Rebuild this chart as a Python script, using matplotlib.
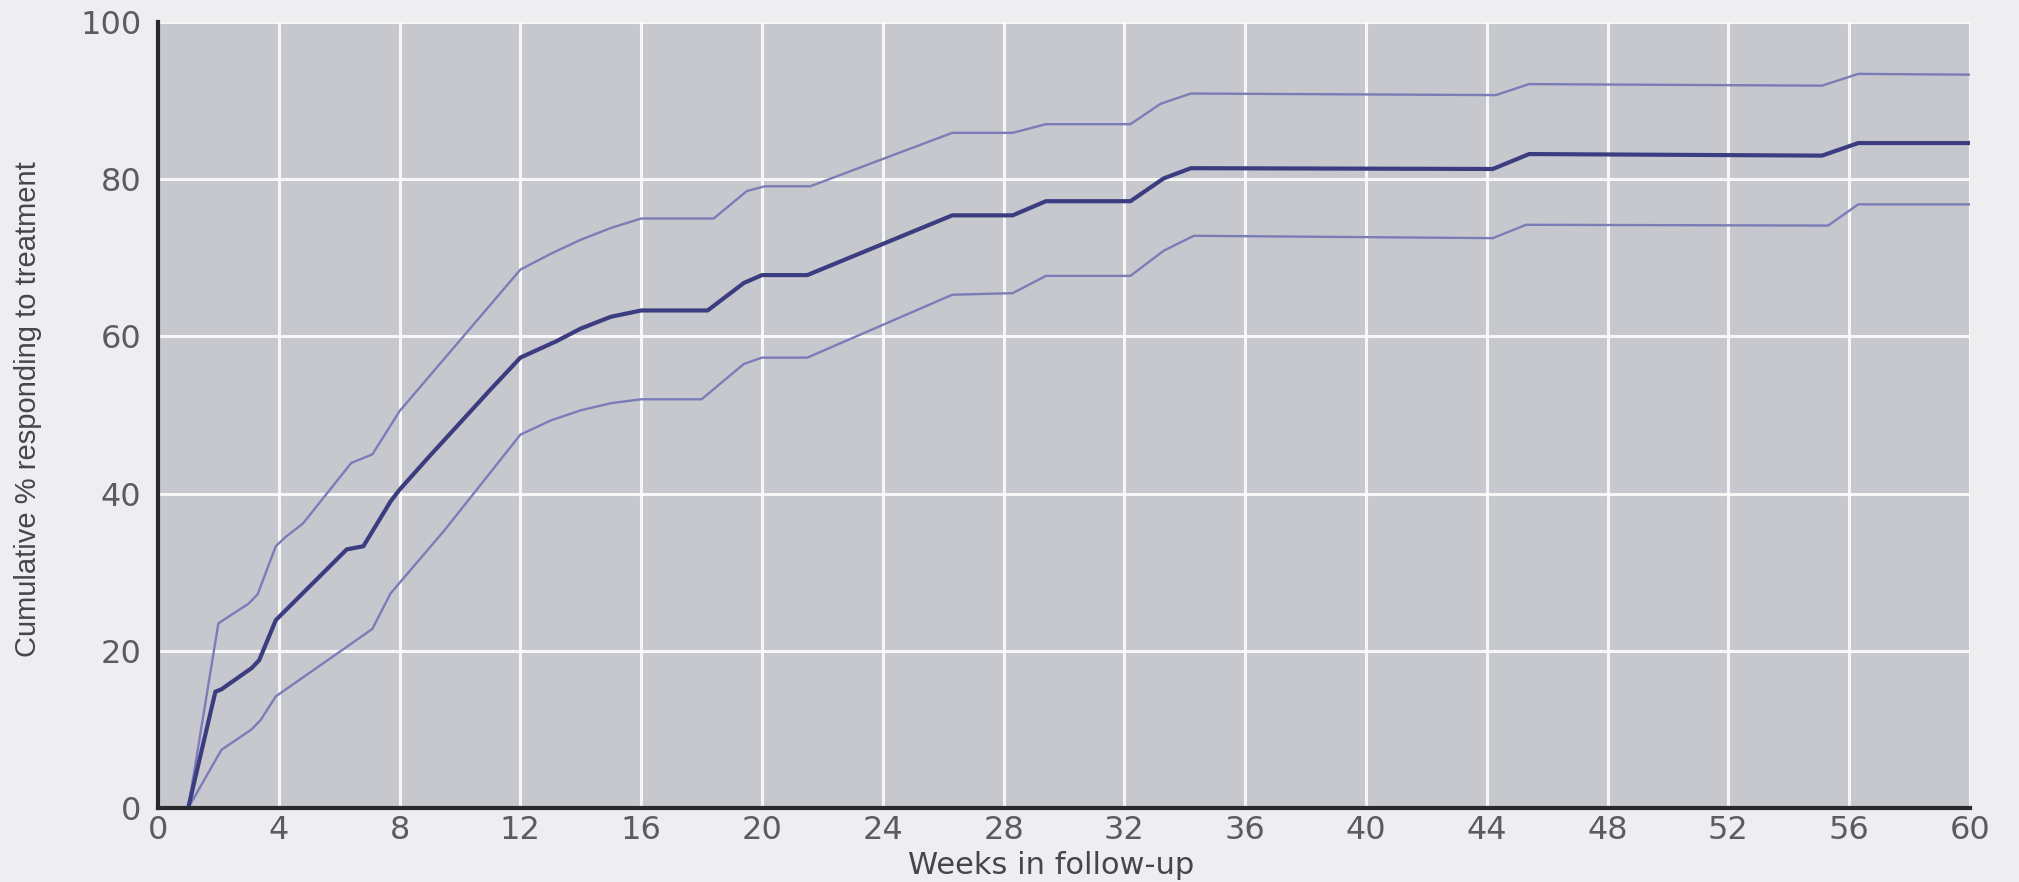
import matplotlib
matplotlib.use("Agg")
import matplotlib.pyplot as plt

# ---- data ----
weeks_mid = [1.0, 1.9, 2.1, 3.1, 3.35, 3.9, 6.25, 6.8, 7.7, 8.0, 9, 10, 11, 12, 13.2, 14, 15, 16,
             18.2, 19.4, 20.0, 21.5, 26.3, 28.3, 29.4, 32.2, 33.3, 34.2, 44.2, 45.4, 55.1, 56.3, 60]
pct_mid = [0, 14.8, 15.1, 17.8, 18.8, 23.9, 32.9, 33.3, 39.0, 40.5, 44.8, 49.0, 53.2, 57.3, 59.4, 61.0, 62.5, 63.3,
           63.3, 66.8, 67.8, 67.8, 75.4, 75.4, 77.2, 77.2, 80.1, 81.4, 81.3, 83.2, 83.0, 84.6, 84.6]

weeks_up = [1.0, 2.0, 2.4, 3.0, 3.3, 3.9, 4.2, 4.8, 6.4, 7.1, 8.0, 9, 10, 11, 12, 13, 14, 15, 16,
            18.4, 19.5, 20.1, 21.6, 26.3, 28.3, 29.4, 32.2, 33.2, 34.2, 44.3, 45.4, 55.1, 56.3, 60]
pct_up = [0, 23.5, 24.5, 26.0, 27.2, 33.3, 34.4, 36.2, 43.9, 45.0, 50.5, 55.0, 59.5, 64.0, 68.5, 70.5, 72.3, 73.8, 75.0,
          75.0, 78.5, 79.1, 79.1, 85.9, 85.9, 87.0, 87.0, 89.6, 90.9, 90.7, 92.1, 91.9, 93.4, 93.3]

weeks_lo = [1.0, 2.1, 3.1, 3.4, 3.9, 6.25, 7.1, 7.7, 9.5, 12, 13, 14, 15, 16, 18.0, 19.4, 20.0, 21.5,
            26.3, 28.3, 29.4, 32.2, 33.3, 34.3, 44.2, 45.3, 55.3, 56.3, 60]
pct_lo = [0, 7.4, 10.0, 11.2, 14.2, 20.5, 22.8, 27.3, 35.4, 47.5, 49.3, 50.6, 51.5, 52.0, 52.0, 56.5, 57.3, 57.3,
          65.3, 65.5, 67.7, 67.7, 70.9, 72.8, 72.5, 74.2, 74.1, 76.8, 76.8]

x_ticks = list(range(0, 61, 4))
y_ticks = [0, 20, 40, 60, 80, 100]
x_label = "Weeks in follow-up"
y_label = "Cumulative % responding to treatment"

# ---- figure ----
W, H = 2019, 882
fig = plt.figure(figsize=(W / 100, H / 100), dpi=100)
fig.patch.set_facecolor("#eeeef1")
left, right, top, bottom = 158, 1970, 22, 808
ax = fig.add_axes([left / W, 1 - bottom / H, (right - left) / W, (bottom - top) / H])
ax.set_facecolor("#c7c8cd")

ax.set_xlim(0, 60)
ax.set_ylim(0, 100)
ax.set_xticks(x_ticks)
ax.set_yticks(y_ticks)
ax.grid(True, color="white", linewidth=2.2, alpha=0.85)
ax.set_axisbelow(True)

for s in ("top", "right"):
    ax.spines[s].set_visible(False)
for s in ("left", "bottom"):
    ax.spines[s].set_color("#2a2a2e")
    ax.spines[s].set_linewidth(3)
    ax.spines[s].set_zorder(5)

ax.tick_params(length=0, labelsize=23, labelcolor="#5c5c60")
ax.tick_params(axis="y", pad=12)
ax.tick_params(axis="x", pad=5)

ax.plot(weeks_up, pct_up, color="#7b7cb8", linewidth=1.7, solid_joinstyle="round")
ax.plot(weeks_lo, pct_lo, color="#7b7cb8", linewidth=1.7, solid_joinstyle="round")
ax.plot(weeks_mid, pct_mid, color="#3c3d80", linewidth=3.0, solid_joinstyle="round")

fig.text(28 / W, 1 - 409 / H, y_label, rotation=90, ha="center", va="center",
         fontsize=21, color="#46464a", family=["Liberation Sans", "DejaVu Sans"])
fig.text(1051 / W, 1 - 866 / H, x_label, ha="center", va="center",
         fontsize=22, color="#46464a", family=["DejaVu Sans"])

fig.savefig("out.png", dpi=100, facecolor=fig.get_facecolor())
